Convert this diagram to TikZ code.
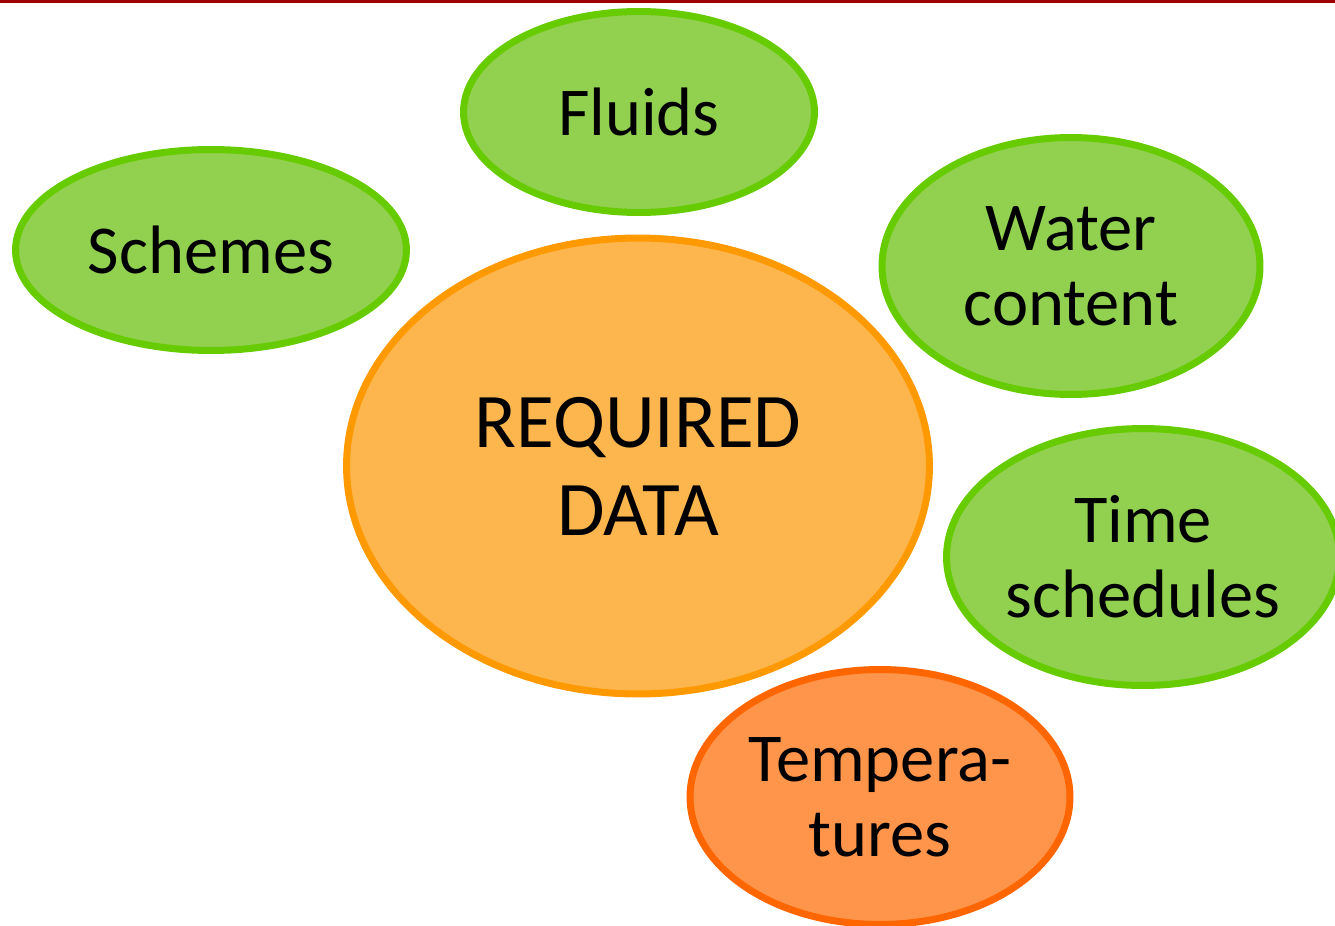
\documentclass[tikz,border=0pt]{standalone}
\usepackage{fontspec}
\setmainfont{Carlito}
\usetikzlibrary{shapes.geometric}
\definecolor{leafgreen}{HTML}{92D050}
\definecolor{leafedge}{HTML}{66CC00}
\definecolor{corefill}{HTML}{FDB64E}
\definecolor{coreedge}{HTML}{FF9900}
\definecolor{hotfill}{HTML}{FF944B}
\definecolor{hotedge}{HTML}{FF6600}
\definecolor{rulered}{HTML}{A00000}
\begin{document}
\begin{tikzpicture}[x=0.02cm, y=-0.02cm,
  bubble/.style={ellipse, line width=0.14cm, inner sep=0pt, align=center,
    font=\fontsize{39}{42.5}\selectfont},
  leaf/.style={bubble, draw=leafedge, fill=leafgreen},
  hot/.style={bubble, draw=hotedge, fill=hotfill},
  core/.style={bubble, draw=coreedge, fill=corefill,
    font=\fontsize{44}{50}\selectfont}]
\useasboundingbox (0,0) rectangle (1335,926);
\draw[rulered, line width=0.06cm] (0,1.5) -- (1335,1.5);
\node[core, minimum width=11.66cm, minimum height=9.12cm] (data) at (638,466){REQUIRED\\DATA};
\node[leaf, minimum width=7.02cm, minimum height=4.02cm] (fluids) at (639,112){Fluids};
\node[leaf, minimum width=7.82cm, minimum height=4.02cm] (schemes) at (211,250){Schemes};
\node[leaf, minimum width=7.56cm, minimum height=5.14cm] (water) at (1071,266){Water\\content};
\node[leaf, minimum width=7.86cm, minimum height=5.14cm] (time) at (1143,557){Time\\schedules};
\node[hot, minimum width=7.60cm, minimum height=5.10cm] (temp) at (880,797){Tempera-\\tures};

\end{tikzpicture}
\end{document}
